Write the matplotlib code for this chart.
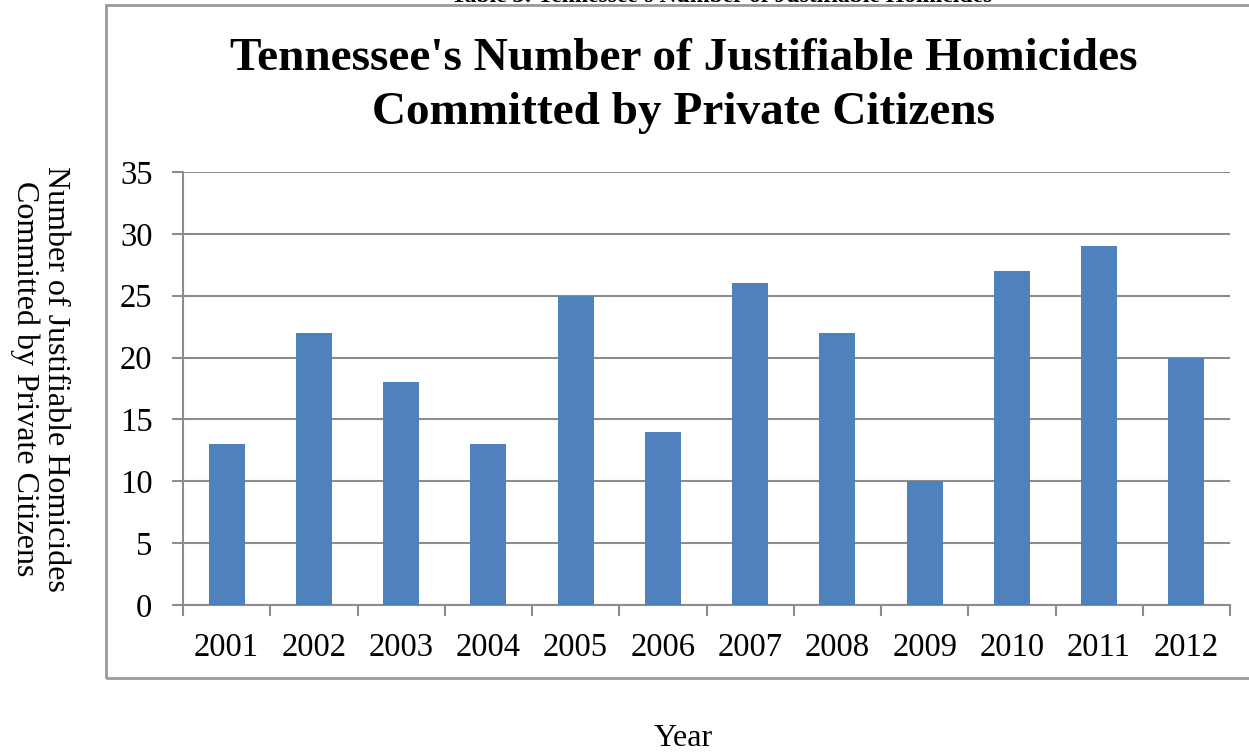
import matplotlib
matplotlib.use("Agg")
import matplotlib.pyplot as plt
from matplotlib.patches import Rectangle

plt.rcParams['font.family'] = ['Liberation Serif', 'DejaVu Serif']

years = ['2001', '2002', '2003', '2004', '2005', '2006',
         '2007', '2008', '2009', '2010', '2011', '2012']
homicides = [13, 22, 18, 13, 25, 14, 26, 22, 10, 27, 29, 20]

W, H = 1249, 753
fig = plt.figure(figsize=(W / 100, H / 100), dpi=100)

# outer chart frame (right edge runs off the page)
fig.patches.append(Rectangle((106 / W, 1 - 678 / H), 1.2, (678 - 5) / H,
                             transform=fig.transFigure, fill=False,
                             edgecolor='#9a9a9a', linewidth=2, zorder=0))

ax = fig.add_axes([183 / W, 1 - 605 / H, (1230 - 183) / W, (605 - 172) / H])
x = list(range(len(years)))
ax.bar(x, homicides, width=0.41, color='#4F81BD', zorder=3)

ax.set_xlim(-0.5, len(years) - 0.5)
ax.set_ylim(0, 35)
ax.set_yticks(range(0, 36, 5))
ax.yaxis.grid(True, color='#8c8c8c', linewidth=1.5, zorder=0)
ax.set_axisbelow(True)

ax.set_xticks(x)
ax.set_xticklabels(years, fontsize=23.5)
ax.set_xticks([i - 0.5 for i in range(len(years) + 1)], minor=True)
ax.tick_params(axis='x', which='major', length=0, pad=20)
ax.tick_params(axis='x', which='minor', length=8, width=1.5, color='#8c8c8c')
ax.tick_params(axis='y', length=8, width=1.5, color='#8c8c8c', labelsize=23.5, pad=14)

for side in ['top', 'right']:
    ax.spines[side].set_visible(False)
for side in ['left', 'bottom']:
    ax.spines[side].set_color('#8c8c8c')
    ax.spines[side].set_linewidth(1.5)

fig.text(684 / W, 1 - 86 / H,
         "Tennessee's Number of Justifiable Homicides\nCommitted by Private Citizens",
         ha='center', va='center', fontsize=34, fontweight='bold', linespacing=1.35)

fig.text(722 / W, 1 + 3 / H, "Table 3: Tennessee's Number of Justifiable Homicides",
         ha='center', va='center', fontsize=17, fontweight='bold')

fig.text(40 / W, 1 - 379 / H,
         "Number of Justifiable Homicides\nCommitted by Private Citizens",
         ha='center', va='center', rotation=-90, fontsize=23, linespacing=1.1)

fig.text(683 / W, 1 - 738 / H, "Year", ha='center', va='center', fontsize=23)

fig.savefig('out.png', dpi=100)
